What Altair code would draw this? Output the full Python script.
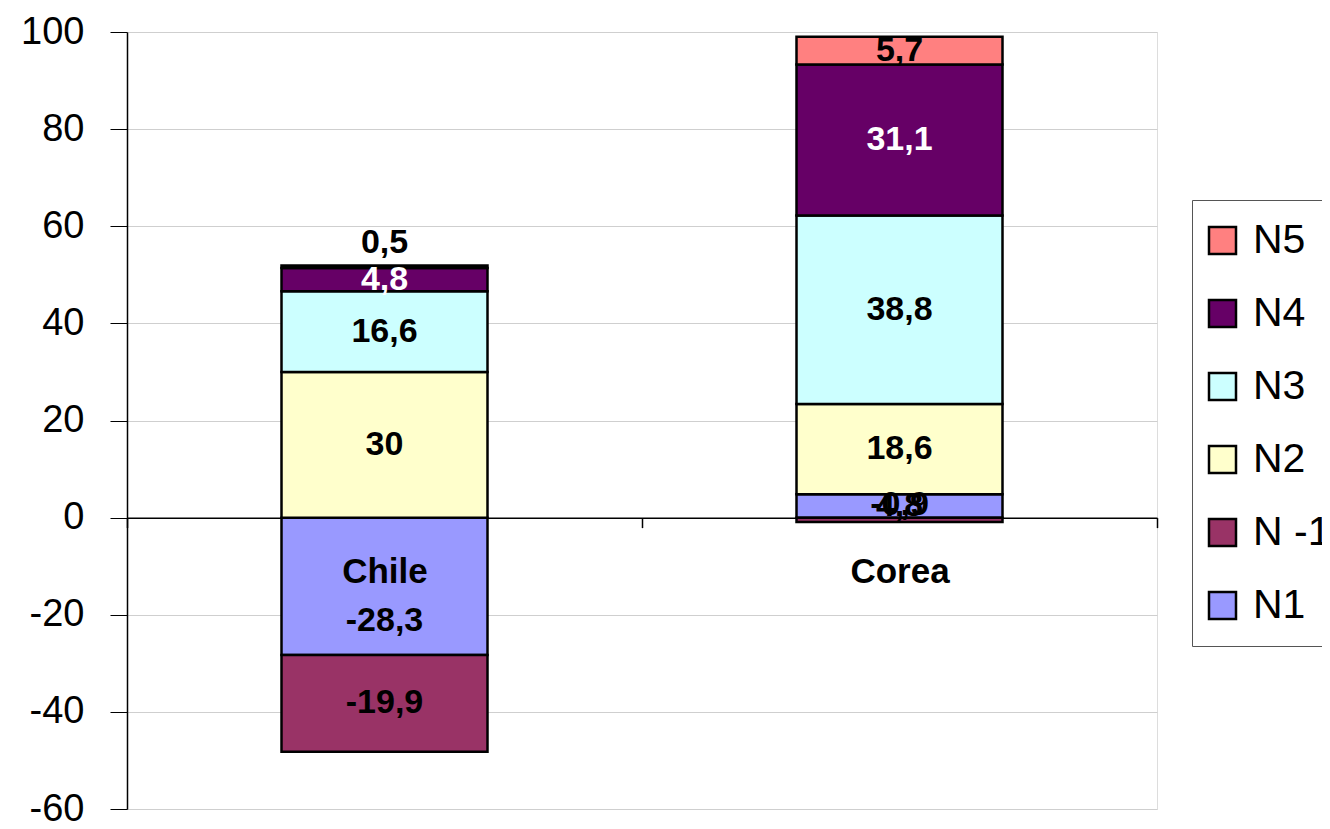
import altair as alt
import pandas as pd

countries = ["Chile", "Corea"]
series = ["N1", "N -1", "N2", "N3", "N4", "N5"]
chile_values = [-28.3, -19.9, 30.0, 16.6, 4.8, 0.5]
corea_values = [4.8, -0.9, 18.6, 38.8, 31.1, 5.7]
legend_order = ["N5", "N4", "N3", "N2", "N -1", "N1"]
legend_colors = ["#FF8080", "#660066", "#CCFFFF", "#FFFFCC", "#993366", "#9999FF"]
y_ticks = [-60, -40, -20, 0, 20, 40, 60, 80, 100]

rows = []
for country, vals in zip(countries, [chile_values, corea_values]):
    for i, (s, v) in enumerate(zip(series, vals)):
        rows.append({"country": country, "series": s, "value": v, "order": i,
                     "label": f"{v:g}".replace(".", ",")})
df = pd.DataFrame(rows)

FONT = "Liberation Sans"

base = alt.Chart(df).transform_stack(
    stack="value", groupby=["country"], as_=["y0", "y1"],
    sort=[alt.SortField("order")], offset="zero"
).transform_calculate(mid="(datum.y0 + datum.y1) / 2")

x_scale = alt.Scale(paddingInner=0, paddingOuter=0)

x_enc = alt.X("country:N", sort=countries, scale=x_scale,
              axis=alt.Axis(title=None, labelAngle=0, offset=-291.375,
                            domainColor="#000000", domainWidth=1.5,
                            tickColor="#000000", tickSize=10, tickWidth=1.5,
                            tickBand="extent", labelFont=FONT, labelFontSize=35,
                            labelFontWeight="bold", labelColor="#000000",
                            labelPadding=27, zindex=1, grid=False))

y_scale = alt.Scale(domain=[-60, 100], nice=False, zero=False)

bars = base.mark_bar(stroke="#000000", strokeWidth=2.5,
                     width=alt.RelativeBandSize(0.4)).encode(
    x=x_enc,
    y=alt.Y("y0:Q", scale=y_scale,
            axis=alt.Axis(title=None, values=y_ticks, domainColor="#000000",
                          domainWidth=1.5, tickColor="#000000", tickSize=17,
                          labelFont=FONT, labelFontSize=38, labelColor="#000000",
                          labelPadding=26, grid=True, gridColor="#cfcfcf",
                          gridWidth=1,
                          labelExpr="replace(datum.label, '\u2212', '-')")),
    y2="y1:Q",
    color=alt.Color("series:N",
                    scale=alt.Scale(domain=legend_order, range=legend_colors),
                    legend=alt.Legend(title=None, orient="none", legendX=1065,
                                      legendY=168, fillColor="#ffffff",
                                      strokeColor="#555555", padding=20,
                                      symbolType="square", symbolSize=729,
                                      symbolStrokeColor="#000000",
                                      symbolStrokeWidth=2.5, symbolOpacity=1,
                                      symbolOffset=-10,
                                      labelFont=FONT, labelFontSize=41,
                                      labelColor="#000000", labelOffset=10,
                                      rowPadding=31, labelLimit=400)),
)

text_color = alt.condition(alt.datum.series == "N4", alt.value("#ffffff"), alt.value("#000000"))


def label_layer(cond, dy):
    return base.transform_filter(cond).mark_text(
        font=FONT, fontSize=34, fontWeight="bold", baseline="middle",
        align="center", dy=dy
    ).encode(x=alt.X("country:N", sort=countries, scale=x_scale),
             y=alt.Y("mid:Q", scale=y_scale),
             text="label:N", color=text_color)


# regular labels
labels_main = label_layer("abs(datum.value) >= 1 && !(datum.series == 'N1' && datum.value < 0)", 0)
# labels sitting under the category name are pushed down, as in the original
labels_low = label_layer("abs(datum.value) >= 1 && datum.series == 'N1' && datum.value < 0", 35)
# labels of very thin segments are pushed up
labels_small_pos = label_layer("abs(datum.value) < 1 && datum.value > 0", -24)
labels_small_neg = label_layer("abs(datum.value) < 1 && datum.value < 0", -15)

chart = alt.layer(bars, labels_main, labels_low, labels_small_pos, labels_small_neg).properties(
    width=1030, height=777,
    autosize=alt.AutoSizeParams(type="none"),
    padding={"left": 119, "top": 24, "right": 165, "bottom": 12},
).configure_view(stroke=None).configure(background="#ffffff")

chart.save("out.html", embed_options={"renderer": "svg", "actions": False})
